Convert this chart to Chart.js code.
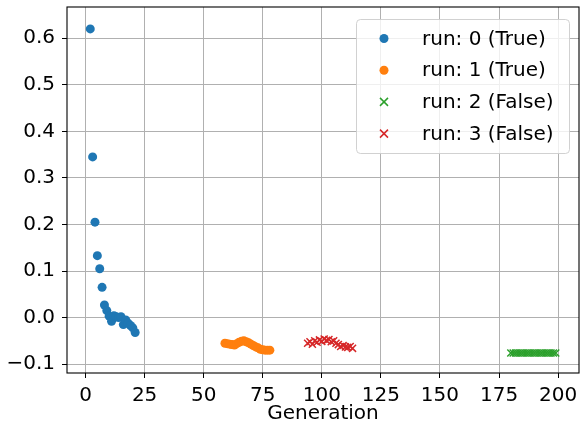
<!DOCTYPE html>
<html>
<head>
<meta charset="utf-8">
<script src="https://cdn.jsdelivr.net/npm/chart.js@4/dist/chart.umd.min.js"></script>
<style>
  body { margin: 0; background: #fff; }
  #wrap { width: 580px; height: 432px; }
</style>
</head>
<body>
<div id="wrap"><canvas id="chart" width="580" height="432"></canvas></div>
<script>
// data
const run0Gen = [2, 3, 4, 5, 6, 7, 8, 9, 10, 11, 12, 13, 14, 15, 16, 17, 18, 19, 20, 21];
const run0Val = [0.62, 0.345, 0.205, 0.133, 0.105, 0.065, 0.027, 0.015, 0.003, -0.008,
                 0.004, 0.002, 0.0, 0.002, -0.015, -0.005, -0.012, -0.017, -0.022, -0.032];

const run1Gen = [59, 60, 61, 62, 63, 64, 65, 66, 67, 68, 69, 70, 71, 72, 73, 74, 75, 76, 77, 78];
const run1Val = [-0.055, -0.056, -0.057, -0.058, -0.059, -0.056, -0.053, -0.051, -0.050, -0.052,
                 -0.054, -0.057, -0.060, -0.063, -0.065, -0.068, -0.069, -0.070, -0.070, -0.070];

const run2Gen = [180, 181, 182, 183, 184, 185, 186, 187, 188, 189, 190, 191, 192, 193, 194, 195, 196, 197, 198, 199];
const run2Val = [-0.076, -0.076, -0.076, -0.076, -0.076, -0.076, -0.076, -0.076, -0.076, -0.076,
                 -0.076, -0.076, -0.076, -0.076, -0.076, -0.076, -0.076, -0.076, -0.076, -0.076];

const run3Gen = [94, 95, 96, 97, 98, 99, 100, 101, 102, 103, 104, 105, 106, 107, 108, 109, 110, 111, 112, 113];
const run3Val = [-0.055, -0.052, -0.057, -0.050, -0.053, -0.048, -0.051, -0.046, -0.049, -0.047,
                 -0.052, -0.050, -0.055, -0.058, -0.062, -0.060, -0.063, -0.064, -0.062, -0.066];

const runLabels = ['run: 0 (True)', 'run: 1 (True)', 'run: 2 (False)', 'run: 3 (False)'];
const xTicks = [0, 25, 50, 75, 100, 125, 150, 175, 200];
const yTicks = [-0.1, 0.0, 0.1, 0.2, 0.3, 0.4, 0.5, 0.6];

const FONT = "'DejaVu Sans', sans-serif";

// zip gen/value arrays into points
function toPoints(gens, vals) {
    return gens.map((g, i) => ({ x: g, y: vals[i] }));
}

function makeSet(label, gens, vals, color, style) {
    const cross = style === 'crossRot';
    return {
        label: label,
        data: toPoints(gens, vals),
        pointStyle: style,
        pointRadius: cross ? 5 : 4.5,
        pointBorderWidth: cross ? 1.5 : 0,
        backgroundColor: color,
        borderColor: color,
        pointHoverRadius: cross ? 5 : 4.5
    };
}

// black frame round the plot area, like matplotlib spines
const framePlugin = {
    id: 'frame',
    afterDatasetsDraw(chart) {
        const { ctx, chartArea: a } = chart;
        ctx.save();
        ctx.strokeStyle = '#000';
        ctx.lineWidth = 1.1;
        ctx.strokeRect(a.left, a.top, a.right - a.left, a.bottom - a.top);
        ctx.restore();
    }
};

// legend box in the top right corner, drawn over the plot
const boxLegend = {
    id: 'boxLegend',
    afterDraw(chart) {
        const ctx = chart.ctx;
        const x0 = 356, y0 = 19, w = 213, h = 134;
        ctx.save();
        ctx.beginPath();
        ctx.roundRect(x0 + 0.5, y0 + 0.5, w, h, 4);
        ctx.fillStyle = 'rgba(255,255,255,0.8)';
        ctx.fill();
        ctx.strokeStyle = 'rgba(204,204,204,0.9)';
        ctx.lineWidth = 1;
        ctx.stroke();

        ctx.font = '20px ' + FONT;
        ctx.textBaseline = 'middle';
        ctx.textAlign = 'left';
        chart.data.datasets.forEach((ds, i) => {
            const cy = 38.5 + i * 31.7;
            ctx.fillStyle = ds.backgroundColor;
            ctx.strokeStyle = ds.borderColor;
            ctx.lineWidth = ds.pointBorderWidth;
            if (ds.pointStyle === 'circle') {
                ctx.beginPath();
                ctx.arc(384, cy, ds.pointRadius, 0, Math.PI * 2);
                ctx.fill();
            } else {
                ctx.beginPath();
                ctx.moveTo(384 - 4, cy - 4); ctx.lineTo(384 + 4, cy + 4);
                ctx.moveTo(384 + 4, cy - 4); ctx.lineTo(384 - 4, cy + 4);
                ctx.stroke();
            }
            ctx.fillStyle = '#000';
            ctx.fillText(ds.label, 422, cy + 1);
        });
        ctx.restore();
    }
};

const fmt = v => {
    const s = Math.abs(v).toFixed(1);
    return v < -1e-9 ? '\u2212' + s : s;
};

const ctx = document.getElementById('chart').getContext('2d');
const chart = new Chart(ctx, {
    type: 'scatter',
    data: {
        datasets: [
            makeSet(runLabels[0], run0Gen, run0Val, '#1f77b4', 'circle'),
            makeSet(runLabels[1], run1Gen, run1Val, '#ff7f0e', 'circle'),
            makeSet(runLabels[2], run2Gen, run2Val, '#2ca02c', 'crossRot'),
            makeSet(runLabels[3], run3Gen, run3Val, '#d62728', 'crossRot')
        ]
    },
    options: {
        responsive: false,
        animation: false,
        layout: { autoPadding: false, padding: { top: 7, right: 1, left: 0, bottom: 0 } },
        plugins: {
            legend: { display: false },
            tooltip: { enabled: false }
        },
        scales: {
            x: {
                type: 'linear',
                min: -7.85,
                max: 208.85,
                afterFit: scale => {
                    scale.height = 59;
                    scale.paddingLeft = 0;
                    scale.paddingRight = 0;
                },
                afterBuildTicks: scale => { scale.ticks = xTicks.map(v => ({ value: v })); },
                border: { display: false },
                grid: { color: '#b0b0b0', lineWidth: 1, tickColor: '#000', tickLength: 5 },
                ticks: {
                    color: '#000',
                    padding: 6,
                    maxRotation: 0,
                    font: { family: FONT, size: 20 },
                    callback: v => String(v)
                },
                title: {
                    display: true,
                    text: 'Generation',
                    color: '#000',
                    font: { family: FONT, size: 20 },
                    padding: { top: 0, bottom: 6 }
                }
            },
            y: {
                type: 'linear',
                min: -0.119,
                max: 0.667,
                afterFit: scale => {
                    scale.width = 67;
                    scale.paddingTop = 0;
                    scale.paddingBottom = 0;
                },
                afterBuildTicks: scale => { scale.ticks = yTicks.map(v => ({ value: v })); },
                border: { display: false },
                grid: { color: '#b0b0b0', lineWidth: 1, tickColor: '#000', tickLength: 5 },
                ticks: {
                    color: '#000',
                    padding: 7,
                    font: { family: FONT, size: 20 },
                    callback: v => fmt(v)
                }
            }
        }
    },
    plugins: [framePlugin, boxLegend]
});
</script>
</body>
</html>
